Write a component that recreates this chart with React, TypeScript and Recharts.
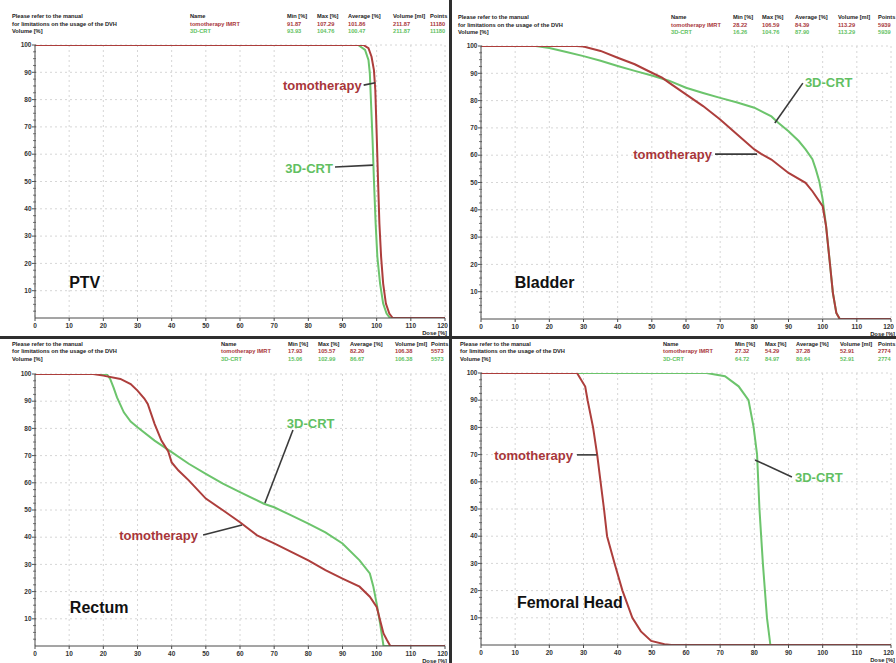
import React from "react";
import {
  LineChart,
  Line,
  XAxis,
  YAxis,
  CartesianGrid,
  ReferenceLine,
  ReferenceDot,
} from "recharts";

// ---- axes ----
const doseTicks = [0, 10, 20, 30, 40, 50, 60, 70, 80, 90, 100, 110, 120];
const volumeGrid = [10, 20, 30, 40, 50, 60, 70, 80, 90, 100];
const volumeTicks: number[] = [];
for (let v = 0; v <= 100; v += 2.5) volumeTicks.push(v);

// ---- PTV ----
const ptvTomoDose = [0, 96.1, 97.6, 98.5, 99.2, 99.6, 100.0, 100.4, 100.8, 101.3, 101.9, 102.7, 103.7, 104.7, 120];
const ptvTomoVolume = [100, 100, 98.8, 95.7, 90.8, 83.5, 67.6, 50.5, 34.6, 22.4, 12.6, 5.3, 1.6, 0, 0];
const ptvCrtDose = [0, 94.6, 96.6, 97.6, 98.0, 98.4, 98.8, 99.2, 99.7, 100.2, 101.0, 101.9, 102.9, 103.9, 120];
const ptvCrtVolume = [100, 100, 98.2, 94.5, 89.6, 77.4, 65.2, 50.5, 34.6, 22.4, 12.6, 5.3, 1.6, 0, 0];

// ---- Bladder ----
const bladderTomoDose = [0, 28, 30, 35, 40, 45, 50, 53, 55, 60, 65, 70, 75, 80, 82, 85, 90, 95, 97, 100, 101, 102, 103, 104, 105, 120];
const bladderTomoVolume = [100, 100, 99.8, 98.2, 95.7, 93.3, 90.2, 88.4, 86.6, 82.3, 78.0, 73.1, 67.6, 62.1, 60.5, 58.4, 53.5, 49.9, 46.8, 41.3, 34, 21.8, 9.5, 2.2, 0, 0];
const bladderCrtDose = [0, 16, 20, 25, 30, 35, 40, 45, 50, 55, 60, 65, 70, 75, 80, 85, 87, 90, 93, 95, 97, 98, 99, 100, 101, 102, 103, 104, 105, 120];
const bladderCrtVolume = [100, 100, 99.3, 97.8, 96.3, 94.6, 92.7, 90.9, 89.2, 87.3, 84.7, 82.8, 81.0, 79.3, 77.4, 74.2, 71.9, 68.8, 65.2, 62.1, 58.5, 54.8, 50.5, 43.8, 34, 21.8, 9.5, 2.2, 0, 0];

// ---- Rectum ----
const rectumTomoDose = [0, 17, 20, 25, 28, 30, 32, 33, 35, 37, 39, 40, 42, 45, 50, 55, 60, 65, 70, 75, 80, 85, 90, 95, 98, 100, 101, 102, 103, 104, 120];
const rectumTomoVolume = [100, 100, 99.4, 98.2, 96.3, 93.9, 91, 89.0, 81.7, 75.5, 71.5, 67.5, 64.5, 60.9, 54.2, 49.9, 45.5, 40.7, 37.7, 34.6, 31.5, 27.9, 24.8, 21.8, 18.1, 14.4, 9.5, 4.6, 2.2, 0, 0];
const rectumCrtDose = [0, 21, 22, 23, 24, 26, 28, 30, 35, 40, 45, 50, 55, 60, 67, 70, 75, 80, 85, 90, 95, 98, 99, 100, 101, 102, 120];
const rectumCrtVolume = [100, 100, 98.2, 95, 91.4, 85.9, 82.5, 80.4, 75.5, 71.3, 67.0, 63.3, 59.7, 56.6, 52.3, 51, 48, 45.0, 41.8, 37.7, 31.5, 26.7, 22, 15.6, 8.3, 0, 0];

// ---- Femoral Head ----
const femurTomoDose = [0, 28.1, 30.5, 31.2, 32.8, 34.0, 35.0, 36.0, 36.9, 39.1, 41.4, 44.3, 46.8, 49.8, 53.7, 55.7, 120];
const femurTomoVolume = [100, 100, 95, 90, 80, 70, 60, 50, 40, 30, 20, 10, 5, 1.5, 0.3, 0, 0];
const femurCrtDose = [0, 66.0, 71.4, 75.4, 78.3, 79.8, 80.8, 81.5, 82.5, 83.7, 84.7, 120];
const femurCrtVolume = [100, 100, 98.8, 95.1, 90, 80, 70, 50, 30, 10, 0, 0];

// ---- statistics tables ----
const seriesNames = ["tomotherapy IMRT", "3D-CRT"];
const statHeaders = ["Min [%]", "Max [%]", "Average [%]", "Volume [ml]", "Points"];
const ptvTomoStats = ["91.87", "107.29", "101.86", "211.87", "11180"];
const ptvCrtStats = ["93.93", "104.76", "100.47", "211.87", "11180"];
const bladderTomoStats = ["28.22", "106.59", "84.39", "113.29", "5939"];
const bladderCrtStats = ["16.26", "104.76", "87.90", "113.29", "5939"];
const rectumTomoStats = ["17.93", "105.57", "82.20", "106.38", "5573"];
const rectumCrtStats = ["15.06", "102.99", "86.67", "106.38", "5573"];
const femurTomoStats = ["27.32", "54.29", "37.28", "52.91", "2774"];
const femurCrtStats = ["64.72", "84.97", "80.64", "52.91", "2774"];

const noteLines = [
  "Please refer to the manual",
  "for limitations on the usage of the DVH",
  "Volume [%]",
];

const RED = "#ad3e3c";
const GREEN = "#6cc46c";
const RED_TEXT = "#a8363a";
const GREEN_TEXT = "#62bf62";
const FONT = "'Liberation Sans', Arial, Helvetica, sans-serif";

const zip = (dose: number[], vol: number[]) =>
  dose.map((d, i) => ({ dose: d, volume: vol[i] }));

type Note = { text: string; color: string; size: number; x: number; y: number; anchor: "start" | "end" };
type Leader = [number, number, number, number];

type Panel = {
  key: string;
  left: number;
  top: number;
  height: number;
  marginTop: number;
  xAxisHeight: number;
  tomo: { dose: number; volume: number }[];
  crt: { dose: number; volume: number }[];
  notes: Note[];
  leaders: Leader[];
  doseLabelEnd: number;
  header: { textX: number; nameX: number; cols: number[]; base: number; tomoStats: string[]; crtStats: string[] };
};

const panels: Panel[] = [
  {
    key: "ptv",
    left: 0,
    top: 0,
    height: 337,
    marginTop: 45,
    xAxisHeight: 19,
    tomo: zip(ptvTomoDose, ptvTomoVolume),
    crt: zip(ptvCrtDose, ptvCrtVolume),
    notes: [
      { text: "tomotherapy", color: RED_TEXT, size: 13, x: 95.6, y: 85.3, anchor: "end" },
      { text: "3D-CRT", color: GREEN_TEXT, size: 13, x: 87.2, y: 54.9, anchor: "end" },
      { text: "PTV", color: "#111", size: 16, x: 10, y: 13.2, anchor: "start" },
    ],
    leaders: [
      [96.2, 85.3, 99.6, 86.2],
      [87.8, 55.3, 98.9, 56.0],
    ],
    doseLabelEnd: 447,
    header: { textX: 12, nameX: 190, cols: [287, 317, 348, 393, 430], base: 18, tomoStats: ptvTomoStats, crtStats: ptvCrtStats },
  },
  {
    key: "bladder",
    left: 446,
    top: 1,
    height: 337,
    marginTop: 45,
    xAxisHeight: 19,
    tomo: zip(bladderTomoDose, bladderTomoVolume),
    crt: zip(bladderCrtDose, bladderCrtVolume),
    notes: [
      { text: "3D-CRT", color: GREEN_TEXT, size: 13, x: 94.8, y: 86.8, anchor: "start" },
      { text: "tomotherapy", color: RED_TEXT, size: 13, x: 67.6, y: 60.4, anchor: "end" },
      { text: "Bladder", color: "#111", size: 16, x: 9.9, y: 13.6, anchor: "start" },
    ],
    leaders: [
      [94.2, 86.4, 86.0, 71.8],
      [68.5, 60.4, 80.8, 60.4],
    ],
    doseLabelEnd: 895,
    header: { textX: 458, nameX: 671, cols: [733, 762, 795, 838, 878], base: 19, tomoStats: bladderTomoStats, crtStats: bladderCrtStats },
  },
  {
    key: "rectum",
    left: 0,
    top: 339,
    height: 324,
    marginTop: 35,
    xAxisHeight: 17,
    tomo: zip(rectumTomoDose, rectumTomoVolume),
    crt: zip(rectumCrtDose, rectumCrtVolume),
    notes: [
      { text: "3D-CRT", color: GREEN_TEXT, size: 13, x: 73.7, y: 82.0, anchor: "start" },
      { text: "tomotherapy", color: RED_TEXT, size: 13, x: 47.7, y: 40.8, anchor: "end" },
      { text: "Rectum", color: "#111", size: 16, x: 10.2, y: 14.3, anchor: "start" },
    ],
    leaders: [
      [75.5, 79.4, 67.3, 52.6],
      [49.2, 40.8, 60.6, 44.5],
    ],
    doseLabelEnd: 447,
    header: { textX: 12, nameX: 221, cols: [288, 318, 350, 395, 431], base: 345.5, tomoStats: rectumTomoStats, crtStats: rectumCrtStats },
  },
  {
    key: "femur",
    left: 446,
    top: 338,
    height: 324,
    marginTop: 35,
    xAxisHeight: 17,
    tomo: zip(femurTomoDose, femurTomoVolume),
    crt: zip(femurCrtDose, femurCrtVolume),
    notes: [
      { text: "tomotherapy", color: RED_TEXT, size: 13, x: 26.9, y: 69.9, anchor: "end" },
      { text: "3D-CRT", color: GREEN_TEXT, size: 13, x: 91.9, y: 61.8, anchor: "start" },
      { text: "Femoral Head", color: "#111", size: 16, x: 10.5, y: 15.8, anchor: "start" },
    ],
    leaders: [
      [28.1, 69.9, 33.9, 69.9],
      [91.0, 61.8, 80.2, 68.0],
    ],
    doseLabelEnd: 895,
    header: { textX: 460, nameX: 663, cols: [735, 765, 796, 840, 878], base: 345.5, tomoStats: femurTomoStats, crtStats: femurCrtStats },
  },
];

function NoteText(props: any) {
  const { viewBox, noteText, noteColor, noteSize, noteAnchor } = props;
  const x = viewBox.x + (viewBox.width || 0) / 2;
  const y = viewBox.y + (viewBox.height || 0) / 2;
  return (
    <text
      x={x}
      y={y}
      dy="0.36em"
      textAnchor={noteAnchor}
      fill={noteColor}
      fontSize={noteSize}
      fontWeight="bold"
      fontFamily={FONT}
    >
      {noteText}
    </text>
  );
}

function VolumeTick(props: any) {
  const { x, y, payload } = props;
  const v = payload.value as number;
  const major = v > 0 && v % 10 === 0;
  if (v === 0) return <g />;
  return (
    <g>
      <line x1={major ? x - 3 : x - 2} x2={x + 1} y1={y} y2={y} stroke="#555" strokeWidth={major ? 1 : 0.8} />
      {major && (
        <text x={x - 3.5} y={y} dy="0.35em" textAnchor="end" fontSize={6.5} fontWeight="bold" fill="#333" fontFamily={FONT}>
          {v}
        </text>
      )}
    </g>
  );
}

function DoseTick(props: any) {
  const { x, y, payload } = props;
  const v = payload.value as number;
  const last = v === 120;
  return (
    <text
      x={last ? x + 3 : x}
      y={y}
      dy="0.71em"
      textAnchor={last ? "end" : "middle"}
      fontSize={6.5}
      fontWeight="bold"
      fill="#333"
      fontFamily={FONT}
    >
      {v}
    </text>
  );
}

function DvhPanel({ p }: { p: Panel }) {
  return (
    <div style={{ position: "absolute", left: p.left, top: p.top, width: 450, height: p.height }}>
      <LineChart
        width={448}
        height={p.height}
        margin={{ top: p.marginTop, right: 3, bottom: 0, left: 5 }}
      >
        <CartesianGrid
          stroke="#d6d6d6"
          strokeDasharray="2 3"
          horizontalValues={volumeGrid}
          verticalValues={doseTicks}
        />
        <XAxis
          type="number"
          dataKey="dose"
          domain={[0, 120]}
          ticks={doseTicks}
          interval={0}
          allowDataOverflow
          height={p.xAxisHeight}
          tickSize={3}
          tickMargin={2}
          stroke="#4a4a4a"
          tick={<DoseTick />}
        />
        <YAxis
          type="number"
          domain={[0, 100]}
          ticks={volumeTicks}
          interval={0}
          allowDataOverflow
          width={30}
          tickSize={0}
          tickMargin={0}
          stroke="#4a4a4a"
          tick={<VolumeTick />}
        />
        <Line
          data={p.crt}
          dataKey="volume"
          type="linear"
          stroke={GREEN}
          strokeWidth={2}
          dot={false}
          isAnimationActive={false}
        />
        <Line
          data={p.tomo}
          dataKey="volume"
          type="linear"
          stroke={RED}
          strokeWidth={2}
          dot={false}
          isAnimationActive={false}
        />
        {p.leaders.map((l, i) => (
          <ReferenceLine
            key={"l" + i}
            segment={[
              { x: l[0], y: l[1] },
              { x: l[2], y: l[3] },
            ]}
            stroke="#3a3a3a"
            strokeWidth={1.6}
            ifOverflow="visible"
          />
        ))}
        {p.notes.map((n, i) => (
          <ReferenceDot
            key={"n" + i}
            x={n.x}
            y={n.y}
            r={1}
            fill="none"
            stroke="none"
            ifOverflow="visible"
            label={
              <NoteText noteText={n.text} noteColor={n.color} noteSize={n.size} noteAnchor={n.anchor} />
            }
          />
        ))}
      </LineChart>
    </div>
  );
}

function Headers() {
  return (
    <svg
      width={896}
      height={663}
      style={{ position: "absolute", left: 0, top: 0, pointerEvents: "none" }}
      fontFamily={FONT}
      fontWeight="bold"
      fontSize={5.7}
    >
      {panels.map((p) => {
        const h = p.header;
        const axisY = p.top + p.height - p.xAxisHeight;
        return (
          <g key={p.key}>
            {noteLines.map((t, i) => (
              <text key={i} x={h.textX} y={h.base + i * 7.5} fill="#222">
                {t}
              </text>
            ))}
            <text x={h.nameX} y={h.base} fill="#222">Name</text>
            <text x={h.nameX} y={h.base + 7.5} fill={RED_TEXT}>{seriesNames[0]}</text>
            <text x={h.nameX} y={h.base + 15} fill={GREEN_TEXT}>{seriesNames[1]}</text>
            {statHeaders.map((s, i) => (
              <g key={s}>
                <text x={h.cols[i]} y={h.base} fill="#222">{s}</text>
                <text x={h.cols[i]} y={h.base + 7.5} fill={RED_TEXT}>{h.tomoStats[i]}</text>
                <text x={h.cols[i]} y={h.base + 15} fill={GREEN_TEXT}>{h.crtStats[i]}</text>
              </g>
            ))}
            <text x={p.doseLabelEnd} y={axisY + 16.5} fill="#222" fontSize={5.8} textAnchor="end">
              Dose [%]
            </text>
          </g>
        );
      })}
      <rect x={0} y={336} width={896} height={3} fill="#2e2e2e" />
      <rect x={449} y={0} width={3} height={663} fill="#2e2e2e" />
    </svg>
  );
}

export default function App() {
  return (
    <div
      style={{
        position: "absolute",
        left: 0,
        top: 0,
        width: 896,
        height: 663,
        background: "#ffffff",
        overflow: "hidden",
      }}
    >
      {panels.map((p) => (
        <DvhPanel key={p.key} p={p} />
      ))}
      <Headers />
    </div>
  );
}
